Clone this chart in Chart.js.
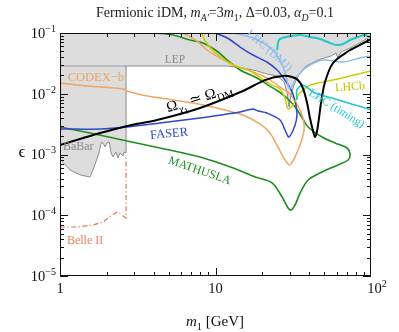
<!DOCTYPE html>
<html lang="en">
<head>
  <meta charset="UTF-8">
  <title>Fermionic iDM reach</title>
  <script src="https://cdn.jsdelivr.net/npm/chart.js@4.4.1/dist/chart.umd.min.js"></script>
  <style>
    html, body { margin: 0; padding: 0; background: #fff; }
    #wrap { width: 399px; height: 332px; position: relative; }
  </style>
</head>
<body>
<div id="wrap"><canvas id="reachChart"></canvas></div>
<script>
// m1 [GeV] and epsilon along each curve
const relicM = [1, 1.41, 1.81, 2.70, 4.21, 7.95, 15.0, 20.8, 26.8, 31.1, 33.9, 36.5, 38.8, 40.5, 42.4, 43.6, 45.0, 46.3, 47.7, 50.6, 57.0, 70.1, 85.0, 100];
const relicEps = [1.43e-3, 1.87e-3, 2.26e-3, 2.95e-3, 3.70e-3, 5.83e-3, 1.11e-2, 1.68e-2, 1.96e-2, 1.89e-2, 1.68e-2, 1.24e-2, 7.04e-3, 3.99e-3, 2.44e-3, 1.94e-3, 2.44e-3, 3.99e-3, 7.04e-3, 1.56e-2, 3.21e-2, 4.87e-2, 6.35e-2, 7.96e-2];

const mathuslaM = [4.08, 5.33, 6.86, 8.31, 10.2, 11.9, 14.4, 18.5, 21.8, 25.2, 28.8, 32.5, 36.5, 39.4, 48.4, 58.7, 70.1, 73.3, 71.2, 61.3, 48.4, 39.4, 35.0, 32.5, 30.6, 29.3, 26.8, 23.1, 18.0, 13.0, 7.95, 4.40, 2.70, 1.56, 1];
const mathuslaEps = [1e-1, 9.27e-2, 7.67e-2, 6.85e-2, 5.05e-2, 3.59e-2, 2.46e-2, 1.82e-2, 1.39e-2, 1.11e-2, 8.51e-3, 6.05e-3, 3.84e-3, 2.84e-3, 1.94e-3, 1.55e-3, 1.28e-3, 1.02e-3, 8.12e-4, 6.72e-4, 5.15e-4, 3.80e-4, 2.32e-4, 1.48e-4, 1.22e-4, 1.32e-4, 2.00e-4, 3.40e-4, 4.26e-4, 6.00e-4, 9.10e-4, 1.28e-3, 1.67e-3, 2.26e-3, 2.84e-3];

const codexM = [6.18, 7.60, 8.82, 10.7, 13.0, 17.4, 21.4, 26.0, 30.1, 33.9, 36.5, 37.1, 35.5, 32.9, 30.1, 28.0, 25.2, 22.4, 19.3, 15.0, 10.2, 7.17, 4.40, 3.37, 2.70, 2.54, 1.51, 1];
const codexEps = [1e-1, 7.39e-2, 5.25e-2, 3.88e-2, 2.97e-2, 2.28e-2, 1.82e-2, 1.29e-2, 9.91e-3, 6.29e-3, 3.99e-3, 2.53e-3, 1.61e-3, 9.81e-4, 6.72e-4, 8.12e-4, 1.33e-3, 2.26e-3, 3.18e-3, 4.47e-3, 5.83e-3, 7.04e-3, 8.51e-3, 9.54e-3, 1.11e-2, 1.20e-2, 1.34e-2, 1.50e-2];

const faserM = [9.93, 11.9, 14.4, 17.4, 21.4, 24.9, 28.0, 31.1, 32.9, 33.4, 32.5, 29.7, 28.0, 26.0, 21.4, 18.8, 17.4, 14.4, 11.9, 7.95, 4.40, 2.70, 1.81, 1];
const faserEps = [1e-1, 8.27e-2, 5.88e-2, 4.34e-2, 3.33e-2, 2.46e-2, 1.68e-2, 1.07e-2, 6.53e-3, 4.47e-3, 3.06e-3, 1.94e-3, 2.53e-3, 3.70e-3, 4.82e-3, 5.20e-3, 5.61e-3, 5.01e-3, 4.64e-3, 3.99e-3, 3.30e-3, 2.84e-3, 2.63e-3, 2.63e-3];

const lhcbM = [8.19, 8.56, 10.2, 13.0, 16.7, 19.9, 23.1, 26.0, 28.0, 29.3, 31.5, 34.4, 39.4, 45.6, 57.0, 73.3, 100];
const lhcbEps = [1e-1, 7.39e-2, 4.51e-2, 2.97e-2, 2.37e-2, 1.75e-2, 1.39e-2, 1.20e-2, 8.51e-3, 5.61e-3, 6.53e-3, 9.91e-3, 1.34e-2, 1.50e-2, 1.68e-2, 1.96e-2, 2.37e-2];

const dmjM = [13.0, 17.4, 23.4, 27.2, 28.8, 29.7, 31.1, 33.4, 38.8, 49.1, 66.1, 85.0, 100];
const dmjEps = [1e-1, 8.27e-2, 5.25e-2, 2.76e-2, 1.68e-2, 1.24e-2, 1.34e-2, 1.89e-2, 2.76e-2, 3.59e-2, 3.33e-2, 3.88e-2, 4.18e-2];

const timingUpM = [24.9, 25.6, 28.4, 31.5, 35.0, 40.5, 47.0, 54.5, 60.4, 66.1, 73.3, 82.5, 91.5, 100];
const timingUpEps = [5.25e-2, 7.67e-2, 8.60e-2, 8.93e-2, 9.27e-2, 8.60e-2, 7.96e-2, 6.85e-2, 6.35e-2, 6.59e-2, 7.67e-2, 8.60e-2, 9.27e-2, 8.27e-2];

const timingM = [33.4, 33.4, 36.0, 39.4, 43.6, 56.1, 71.2, 91.5, 100];
const timingEps = [7.89e-3, 1.15e-2, 1.39e-2, 1.24e-2, 1.03e-2, 8.51e-3, 7.04e-3, 5.83e-3, 5.40e-3];

// BaBar + LEP excluded region (filled up to the top)
const excludedM = [1, 1.16, 1.35, 1.56, 1.63, 1.78, 1.84, 1.89, 1.95, 2.01, 2.07, 2.13, 2.19, 2.29, 2.36, 2.43, 2.54, 2.58, 2.66, 2.66, 11.9, 15.0, 18.5, 21.4, 24.9, 27.6, 28.8, 29.7, 30.6, 32.0, 33.9, 38.2, 45.6, 55.3, 59.6, 61.3, 64.1, 71.2, 82.5, 100];
const excludedEps = [8.43e-4, 5.56e-4, 4.60e-4, 4.26e-4, 5.56e-4, 1.06e-3, 1.55e-3, 1.55e-3, 1.33e-3, 1.55e-3, 1.61e-3, 1.06e-3, 9.10e-4, 1.10e-3, 8.76e-4, 1.06e-3, 9.45e-4, 1.10e-3, 1.06e-3, 2.86e-2, 2.86e-2, 2.65e-2, 2.37e-2, 2.11e-2, 1.96e-2, 1.56e-2, 1.07e-2, 6.05e-3, 9.54e-3, 1.39e-2, 1.96e-2, 2.86e-2, 3.59e-2, 4.18e-2, 4.69e-2, 3.88e-2, 4.87e-2, 5.45e-2, 6.59e-2, 8.93e-2];
const lepM = [1, 2.66];
const lepEps = [2.86e-2, 2.86e-2];

const belleM = [1, 1.29, 1.63, 1.89, 2.16, 2.33, 2.50, 2.66, 2.66];
const belleEps = [6.41e-5, 6.41e-5, 6.91e-5, 7.74e-5, 1.01e-4, 1.13e-4, 1.01e-4, 9.01e-5, 9.10e-4];

// axis ticks
const xMajor = [1, 10, 100];
const xMajorLabels = [[{ t: '1' }], [{ t: '10' }], [{ t: '10' }, { t: '2', s: 'sup' }]];
const yMajor = [1e-1, 1e-2, 1e-3, 1e-4, 1e-5];
const yMajorExp = ['−1', '−2', '−3', '−4', '−5'];

const serif = '"Liberation Serif", "DejaVu Serif", serif';

const pts = (ms, es) => ms.map((m, i) => ({ x: m, y: es[i] }));

// text labels placed in data coordinates
const notes = [
  { parts: [{ t: 'LEP' }], m: 5.49, e: 3.73e-2, rot: 0, color: '#8a8a8a', size: 11.5 },
  { parts: [{ t: 'CODEX−b' }], m: 1.70, e: 1.89e-2, rot: 0, color: '#eea260', size: 12.5 },
  { parts: [{ t: 'BaBar' }], m: 1.31, e: 1.38e-3, rot: 0, color: '#8a8a8a', size: 12 },
  { parts: [{ t: 'FASER' }], m: 5.02, e: 2.26e-3, rot: -5, color: '#3048c4', size: 12.5 },
  { parts: [{ t: 'MATHUSLA' }], m: 7.95, e: 5.56e-4, rot: 19, color: '#1f8c1f', size: 12 },
  { parts: [{ t: 'Ω' }, { t: 'χ', i: true, s: 'sub' }, { t: '1', s: 'sub2' }, { t: ' ≃ Ω' }, { t: 'DM', s: 'sub' }], m: 7.85, e: 8.7e-3, rot: -17, color: '#000', size: 15 },
  { parts: [{ t: 'LHCb' }], m: 73.3, e: 1.34e-2, rot: -4, color: '#c4c000', size: 12 },
  { parts: [{ t: 'LHC (DMJ)' }], m: 22.4, e: 5.25e-2, rot: 41, color: '#8cbcf0', size: 11.5 },
  { parts: [{ t: 'LHC (timing)' }], m: 60.4, e: 5.83e-3, rot: 32, color: '#20c8c8', size: 11.5 },
  { parts: [{ t: 'Belle II' }], m: 1.45, e: 3.91e-5, rot: 0, color: '#e8805c', size: 12 }
];

function drawRich(ctx, parts, x, y, size, align, color, rot) {
  const sizes = { sub: 0.7, sup: 0.7, sub2: 0.55 };
  const shift = { sub: 0.28, sup: -0.42, sub2: 0.45 };
  const fontOf = p => (p.i ? 'italic ' : '') + (size * (sizes[p.s] || 1)) + 'px ' + serif;
  let w = 0;
  parts.forEach(p => { ctx.font = fontOf(p); w += ctx.measureText(p.t).width; });
  ctx.save();
  ctx.translate(x, y);
  ctx.rotate((rot || 0) * Math.PI / 180);
  ctx.fillStyle = color;
  ctx.textAlign = 'left';
  ctx.textBaseline = 'alphabetic';
  let cx = align === 'center' ? -w / 2 : align === 'right' ? -w : 0;
  const base = size * 0.34;
  parts.forEach(p => {
    ctx.font = fontOf(p);
    ctx.fillText(p.t, cx, base + size * (shift[p.s] || 0));
    cx += ctx.measureText(p.t).width;
  });
  ctx.restore();
}

const decor = {
  id: 'decor',
  afterDraw(chart) {
    const { ctx, chartArea: a, scales: { x, y } } = chart;
    ctx.save();
    // frame
    ctx.strokeStyle = '#111';
    ctx.lineWidth = 1;
    ctx.strokeRect(a.left + 0.5, a.top + 0.5, a.right - a.left - 1, a.bottom - a.top - 1);
    // inward ticks on all four sides
    ctx.beginPath();
    [1, 10].forEach(d => {
      for (let k = 1; k <= 9; k++) {
        const px = Math.round(x.getPixelForValue(k * d)) + 0.5;
        const len = k === 1 ? 8 : 4;
        ctx.moveTo(px, a.bottom); ctx.lineTo(px, a.bottom - len);
        ctx.moveTo(px, a.top); ctx.lineTo(px, a.top + len);
      }
    });
    [1e-5, 1e-4, 1e-3, 1e-2].forEach(d => {
      for (let k = 1; k <= 9; k++) {
        const py = Math.round(y.getPixelForValue(k * d)) + 0.5;
        const len = k === 1 ? 8 : 4;
        ctx.moveTo(a.left, py); ctx.lineTo(a.left + len, py);
        ctx.moveTo(a.right, py); ctx.lineTo(a.right - len, py);
      }
    });
    ctx.stroke();
    ctx.restore();

    // tick labels
    xMajor.forEach((v, i) => {
      const lbl = xMajorLabels[i];
      const px = x.getPixelForValue(v) + (i === 2 ? 6 : 0);
      drawRich(ctx, lbl, px, a.bottom + 12, 14.5, 'center', '#111', 0);
    });
    yMajor.forEach((v, i) => {
      drawRich(ctx, [{ t: '10' }, { t: yMajorExp[i], s: 'sup' }], a.left - 4, y.getPixelForValue(v), 14.5, 'right', '#111', 0);
    });

    // titles
    drawRich(ctx, [{ t: 'Fermionic iDM, ' }, { t: 'm', i: true }, { t: 'A′', i: true, s: 'sub' }, { t: '=3' }, { t: 'm', i: true }, { t: '1', s: 'sub' }, { t: ', Δ=0.03, ' }, { t: 'α', i: true }, { t: 'D', i: true, s: 'sub' }, { t: '=0.1' }], 215, 12, 14, 'center', '#222', 0);
    drawRich(ctx, [{ t: 'm', i: true }, { t: '1', s: 'sub' }, { t: ' [GeV]' }], 215, 321, 15, 'center', '#111', 0);
    drawRich(ctx, [{ t: 'ϵ' }], 22, 151, 17, 'center', '#111', 0);

    // curve labels
    notes.forEach(n => {
      drawRich(ctx, n.parts, x.getPixelForValue(n.m), y.getPixelForValue(n.e), n.size, 'center', n.color, n.rot);
    });
  }
};

const line = (data, color, width, extra) => Object.assign({
  data, showLine: true, borderColor: color, borderWidth: width,
  pointRadius: 0, tension: 0.3, fill: false
}, extra || {});

new Chart(document.getElementById('reachChart'), {
  type: 'scatter',
  data: {
    datasets: [
      line(pts(relicM, relicEps), '#000000', 2),
      line(pts(timingM, timingEps), '#20c8c8', 1.6),
      line(pts(timingUpM, timingUpEps), '#20c8c8', 2),
      line(pts(dmjM, dmjEps), '#8cbcf0', 1.5),
      line(pts(lhcbM, lhcbEps), '#cccc00', 1.5),
      line(pts(faserM, faserEps), '#3048c4', 1.5),
      line(pts(codexM, codexEps), '#f0a462', 1.5),
      line(pts(mathuslaM, mathuslaEps), '#1f8c1f', 1.6),
      line(pts(belleM, belleEps), '#e8744f', 1.2, { tension: 0, borderDash: [5, 2.5, 1.2, 2.5] }),
      line(pts(lepM, lepEps), '#9a9a9a', 1, { tension: 0 }),
      line(pts(excludedM, excludedEps), '#8a8a8a', 1, { tension: 0, fill: 'end', backgroundColor: '#dddddd' })
    ]
  },
  options: {
    responsive: true,
    maintainAspectRatio: false,
    animation: false,
    layout: { padding: { left: 60, right: 28, top: 33, bottom: 56 } },
    plugins: { legend: { display: false }, tooltip: { enabled: false } },
    scales: {
      x: { type: 'logarithmic', min: 1, max: 100, display: false },
      y: { type: 'logarithmic', min: 1e-5, max: 1e-1, display: false }
    }
  },
  plugins: [decor]
});
</script>
</body>
</html>
